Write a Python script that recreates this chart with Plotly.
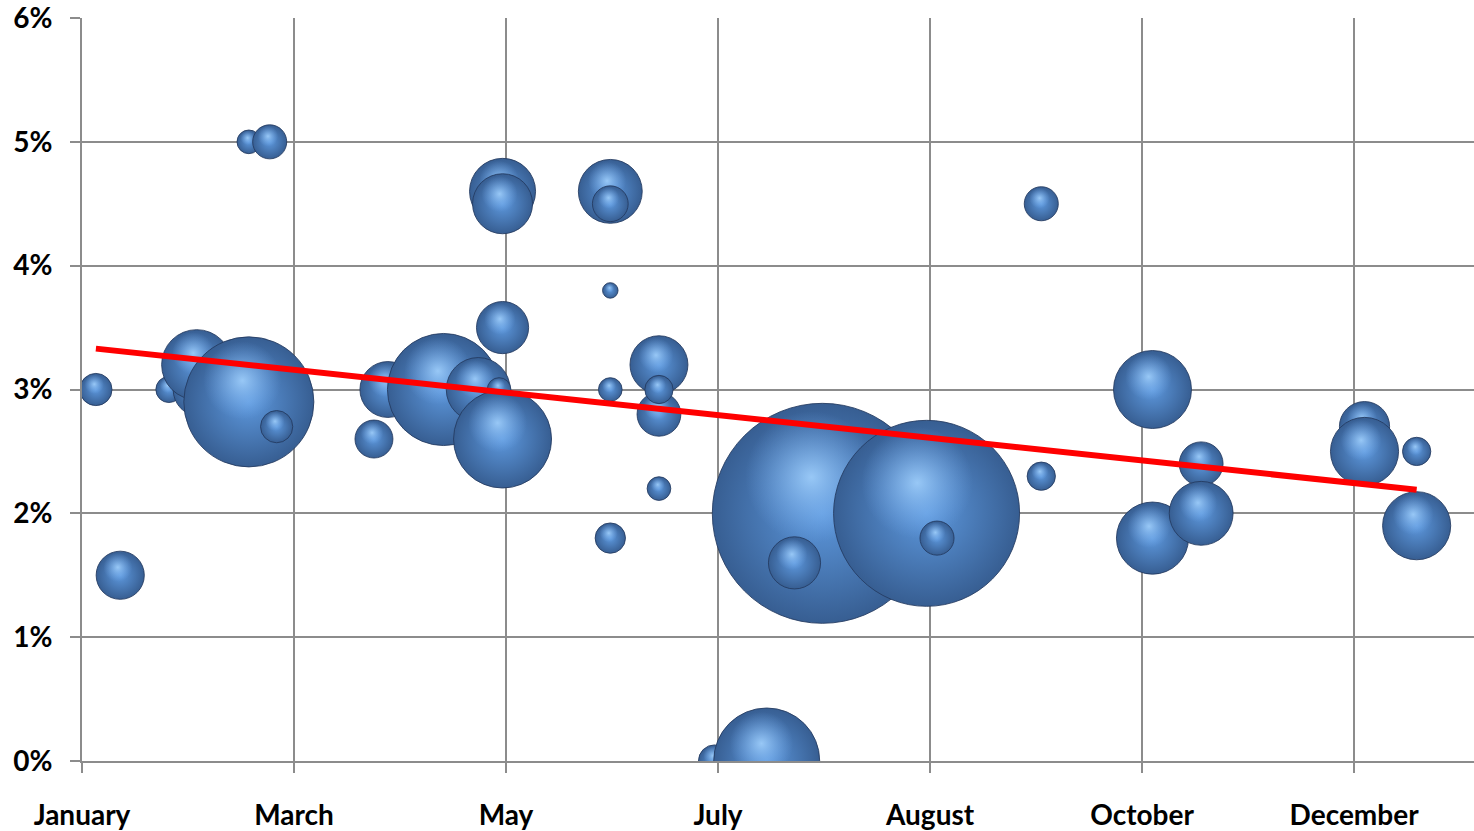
import numpy as np
import plotly.graph_objects as go

# Day offset from 1 January, rate in percent and bubble size (area units),
# listed in drawing order (later points sit on top of earlier ones).
days = [4, 11, 25, 34, 33, 48, 56, 48, 54, 84,
        88, 104, 114, 120, 121, 121, 121, 121, 152, 152,
        152, 152, 152, 166, 166, 166, 166, 182, 197, 213,
        243, 205, 246, 276, 276, 308, 308, 322, 322, 369,
        369, 384, 384]
rates = [3.0, 1.5, 3.0, 3.0, 3.2, 2.9, 2.7, 5.0, 5.0, 2.6,
         3.0, 3.0, 3.0, 3.0, 2.6, 3.5, 4.6, 4.5, 4.6, 4.5,
         3.8, 3.0, 1.8, 3.2, 2.8, 3.0, 2.2, 0.0, 0.0, 2.0,
         2.0, 1.6, 1.8, 4.5, 2.3, 3.0, 1.8, 2.4, 2.0, 2.7,
         2.5, 2.5, 1.9]
sizes = [2.6, 5.8, 1.7, 7.3, 12.3, 42.3, 2.6, 1.4, 2.9, 3.6,
         7.8, 31.4, 10.2, 1.4, 24.0, 6.8, 10.9, 9.0, 10.2, 3.2,
         0.6, 1.4, 2.3, 8.4, 4.8, 2.0, 1.4, 2.6, 28.1, 121.0,
         86.5, 6.8, 2.9, 2.9, 2.0, 15.2, 13.0, 4.8, 10.2, 6.3,
         11.6, 2.0, 11.6]

# Linear trend line end points
trend_days = [4, 384]
trend_rates = [3.33, 2.19]

tick_days = [0, 61, 122, 183, 244, 305, 366]
tick_labels = ["January", "March", "May", "July", "August", "October", "December"]
y_ticks = [0, 1, 2, 3, 4, 5, 6]
y_labels = ["0%", "1%", "2%", "3%", "4%", "5%", "6%"]

W, H = 1474, 831
M_L, M_R, M_T, M_B = 82, 0, 18, 68
X_MAX = 400.5
Y_MAX = 6
SIZEREF = 0.005
GRID = "#8c8c8c"

px_per_pct = (H - M_T - M_B) / Y_MAX
px_per_day = (W - M_L - M_R) / X_MAX

fig = go.Figure()

for d, r, s in zip(days, rates, sizes):
    # rendered diameter for sizemode="area"
    diam = float(np.sqrt(2 * s / SIZEREF))
    # sphere body: darker rim fading to a lighter core
    fig.add_trace(go.Scatter(
        x=[d], y=[r], mode="markers",
        marker=dict(size=[s], sizemode="area", sizeref=SIZEREF, opacity=1,
                    color="#375e92",
                    gradient=dict(type="radial", color="#5d98dd"),
                    line=dict(width=1, color="rgba(35,58,95,0.85)")),
        hoverinfo="skip", showlegend=False))
    # specular highlight, up and slightly left of centre
    fig.add_trace(go.Scatter(
        x=[d - 0.1 * diam / 2 / px_per_day],
        y=[r + 0.33 * diam / 2 / px_per_pct], mode="markers",
        marker=dict(size=diam * 0.6, opacity=1,
                    color="rgba(120,175,240,0)",
                    gradient=dict(type="radial", color="rgba(165,212,255,0.85)"),
                    line=dict(width=0)),
        hoverinfo="skip", showlegend=False))

fig.add_trace(go.Scatter(
    x=trend_days, y=trend_rates, mode="lines",
    line=dict(color="#ff0000", width=6),
    hoverinfo="skip", showlegend=False))

tick_font = dict(family="Lato", size=28, color="#000000", weight="bold")

fig.update_layout(
    width=W, height=H,
    margin=dict(l=M_L, r=M_R, t=M_T, b=M_B, pad=0),
    paper_bgcolor="white", plot_bgcolor="white",
    xaxis=dict(range=[0, X_MAX], tickmode="array", tickvals=tick_days,
               ticktext=tick_labels, showgrid=True, gridcolor=GRID, gridwidth=2,
               zeroline=False, showline=True, linecolor=GRID, linewidth=2,
               ticks="outside", ticklen=10, tickwidth=2, tickcolor=GRID,
               tickfont=tick_font, ticklabelstandoff=18,
               ticklabeloverflow="allow"),
    yaxis=dict(range=[0, Y_MAX], tickmode="array", tickvals=y_ticks,
               ticktext=y_labels, showgrid=True, gridcolor=GRID, gridwidth=2,
               zeroline=False, showline=True, linecolor=GRID, linewidth=2,
               ticks="outside", ticklen=10, tickwidth=2, tickcolor=GRID,
               tickfont=tick_font, ticklabelstandoff=12,
               ticklabeloverflow="allow"),
)

fig.write_html("out.html")
